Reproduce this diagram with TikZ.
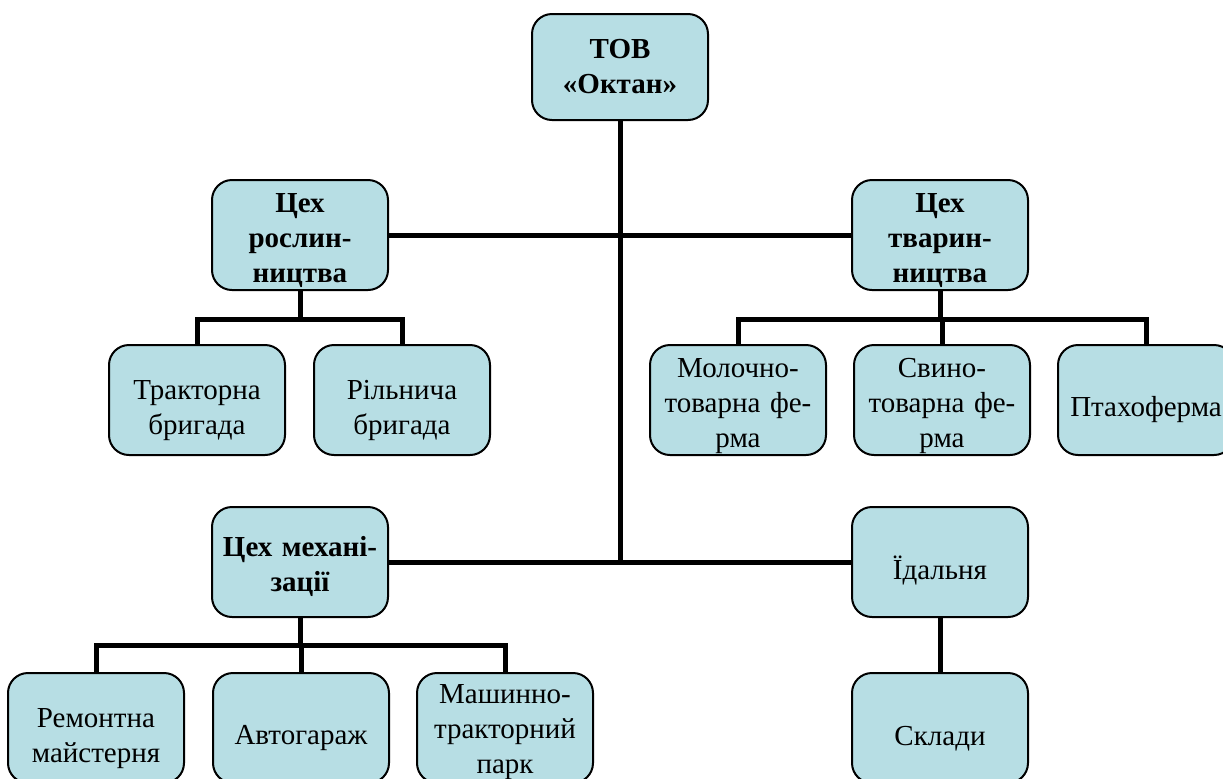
\documentclass[tikz,border=0pt]{standalone}
\usepackage{fontspec}
\setmainfont{Liberation Serif}
\usepackage{tikz}
\usetikzlibrary{positioning}
\definecolor{boxFill}{HTML}{B7DEE4}

\begin{document}
\begin{tikzpicture}[
  x=0.5pt, y=-0.5pt,
  textdrop/.store in=\boxdrop,
  box/.style={draw=black, line width=1pt, rounded corners=10pt, fill=boxFill,
    align=center, text width=84pt, inner xsep=2pt, inner ysep=0pt,
    minimum width=88pt, minimum height=55pt,
    font=\fontsize{14.5}{17.5}\selectfont, textdrop=20pt,
    execute at begin node={\rule{0pt}{\boxdrop}}},
  head/.style={box, font=\fontsize{14.5}{17.5}\selectfont\bfseries},
  link/.style={line width=2.5pt, line join=miter}
]
\path[use as bounding box, clip] (0,0) rectangle (1223,778);
% top level
\node[head, minimum height=53pt, textdrop=0pt] (tov) at (620,67) {ТОВ\\«Октан»};
\node[head, textdrop=15pt] (roslyn) at (300,235) {Цех\\рослин-\\ництва};
\node[head, textdrop=15pt] (tvaryn) at (940,235) {Цех\\тварин-\\ництва};
\node[head, textdrop=15pt] (mekh) at (300,562) {Цех механі-\\зації};
\node[box] (idal) at (940,562) {Їдальня};
% brigades and farms
\node[box] (trakt) at (197,400) {Тракторна\\бригада};
\node[box, right=13.5pt of trakt] (rilny) {Рільнича\\бригада};
\node[box, textdrop=16pt] (moloch) at (738,400) {Молочно-\\товарна фе-\\рма};
\node[box, textdrop=16pt, right=13pt of moloch] (svyno) {Свино-\\товарна фе-\\рма};
\node[box, right=13pt of svyno] (ptakh) {Птахоферма};
% bottom row
\node[box] (remont) at (96,728) {Ремонтна\\майстерня};
\node[box, right=13.5pt of remont] (avto) {Автогараж};
\node[box, textdrop=14pt, right=13pt of avto] (mtp) {Машинно-\\тракторний\\парк};
\node[box] (sklad) at (940,728) {Склади};

% connectors
\draw[link] (tov.south) -- (tov.south |- mekh.east);
\draw[link] (roslyn.east) -- (tvaryn.west);
\draw[link] (mekh.east) -- (idal.west);
\draw[link] (roslyn.south) -- ++(0,28) coordinate (r1);
\draw[link] (trakt.north) |- (r1) -| (rilny.north);
\draw[link] (tvaryn.south) -- ++(0,28) coordinate (t1);
\draw[link] (moloch.north) |- (t1) -| (ptakh.north);
\draw[link] (svyno.north) -- (svyno.north |- t1);
\draw[link] (mekh.south) -- ++(0,27) coordinate (m1);
\draw[link] (remont.north) |- (m1) -| (mtp.north);
\draw[link] (avto.north) -- (avto.north |- m1);
\draw[link] (idal.south) -- (sklad.north);
\end{tikzpicture}
\end{document}
